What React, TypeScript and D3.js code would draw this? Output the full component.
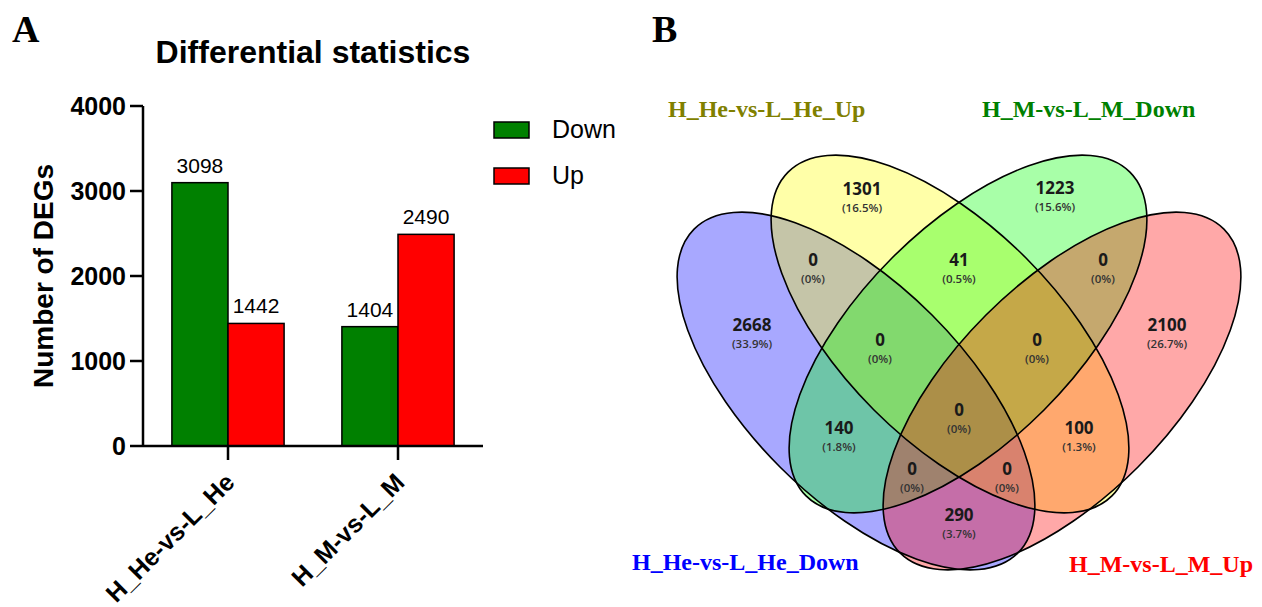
import React from "react";
import * as d3 from "d3";

// ---------- Panel A data ----------
const categories = ["H_He-vs-L_He", "H_M-vs-L_M"];
const seriesNames = ["Down", "Up"];
const downValues = [3098, 1404];
const upValues = [1442, 2490];
const seriesColors = ["#008000", "#ff0000"];
const yTicks = [0, 1000, 2000, 3000, 4000];

// ---------- Panel B data ----------
const vennSetNames = ["H_He-vs-L_He_Down", "H_He-vs-L_He_Up", "H_M-vs-L_M_Down", "H_M-vs-L_M_Up"];
const vennFills = ["#0000ff", "#ffff00", "#00ff00", "#ff0000"];
const vennLabelColors = ["#0000ff", "#808000", "#008000", "#ff0000"];
const vennRegionKeys = ["B", "Y", "G", "R", "BY", "YG", "GR", "BYG", "YGR", "BG", "BYGR", "YR", "BGR", "BYR", "BR"];
const vennCounts = [2668, 1301, 1223, 2100, 0, 41, 0, 0, 0, 140, 0, 100, 0, 0, 290];

// ---------- Venn layout (venn units: x relative to symmetry axis, y from top) ----------
const ellipseLayout = [
  { cx: -103, cy: 391, rot: 45 },
  { cx: -9, cy: 334, rot: 45 },
  { cx: 9, cy: 334, rot: -45 },
  { cx: 103, cy: 391, rot: -45 },
];
const ellipseA = 229;
const ellipseB = 107.5;
const regionLabelLayout: Record<string, [number, number]> = {
  B: [-207, 327], Y: [-97, 191], G: [96, 190], R: [208, 327],
  BY: [-146, 262], YG: [0, 262], GR: [144, 262],
  BYG: [-79, 342], YGR: [78, 342],
  BG: [-120, 430], BYGR: [0, 412], YR: [120, 430],
  BGR: [-47, 471], BYR: [48, 471], BR: [0, 517],
};
const setLabelLayout: [number, number, string][] = [
  [-327, 570, "start"],
  [-291, 117, "start"],
  [23, 117, "start"],
  [294, 572, "end"],
];

const SANS = "'Liberation Sans', Arial, Helvetica, sans-serif";
const SERIF = "'Liberation Serif', 'Times New Roman', serif";
const VENN_FONT = "'Open Sans', 'Noto Sans', sans-serif";

export default function App() {
  const W = 1262, H = 607;

  // Panel A scales
  const x = d3.scaleBand<string>().domain(categories).range([143, 483]).paddingInner(0.34).paddingOuter(0.17);
  const xs = d3.scaleBand<string>().domain(seriesNames).range([0, x.bandwidth()]);
  const y = d3.scaleLinear().domain([0, 4000]).range([446, 106]);
  const seriesValues = [downValues, upValues];

  // Panel B scales
  const vx = d3.scaleLinear().domain([-300, 300]).range([659, 1259]);
  const vy = d3.scaleLinear().domain([0, 600]).range([0, 600]);
  const k = vx(1) - vx(0);

  const total = d3.sum(vennCounts);
  const pct = (v: number) => (v === 0 ? "(0%)" : `(${((v / total) * 100).toFixed(1)}%)`);

  return (
    <svg width={W} height={H} style={{ position: "absolute", left: 0, top: 0, background: "#fff" }}>
      {/* Panel letters */}
      <text x={12} y={42} fontFamily={SERIF} fontWeight="bold" fontSize={38}>A</text>
      <text x={652} y={42} fontFamily={SERIF} fontWeight="bold" fontSize={38}>B</text>

      {/* Title */}
      <text x={313} y={63} textAnchor="middle" fontFamily={SANS} fontWeight="bold" fontSize={32}>
        Differential statistics
      </text>

      {/* Bars */}
      {categories.map((c, ci) =>
        seriesNames.map((s, si) => {
          const v = seriesValues[si][ci];
          const bx = (x(c) as number) + (xs(s) as number);
          return (
            <g key={c + s}>
              <rect x={bx} y={y(v)} width={xs.bandwidth()} height={y(0) - y(v)} fill={seriesColors[si]} stroke="#000" strokeWidth={1.5} />
              <text x={bx + xs.bandwidth() / 2} y={y(v) - 10} textAnchor="middle" fontFamily={SANS} fontSize={21}>{v}</text>
            </g>
          );
        })
      )}

      {/* Y axis */}
      <line x1={143} x2={143} y1={y(4000)} y2={y(0)} stroke="#000" strokeWidth={2.5} />
      {yTicks.map((t) => (
        <g key={t}>
          <line x1={130} x2={143} y1={y(t)} y2={y(t)} stroke="#000" strokeWidth={2.5} />
          <text x={126} y={y(t)} dy="0.35em" textAnchor="end" fontFamily={SANS} fontWeight="bold" fontSize={25}>{t}</text>
        </g>
      ))}
      <text transform={`translate(53,276) rotate(-90)`} textAnchor="middle" fontFamily={SANS} fontWeight="bold" fontSize={28}>
        Number of DEGs
      </text>

      {/* X axis */}
      <line x1={143} x2={483} y1={y(0)} y2={y(0)} stroke="#000" strokeWidth={2.5} />
      {categories.map((c) => {
        const cx = (x(c) as number) + x.bandwidth() / 2;
        return (
          <g key={c}>
            <line x1={cx} x2={cx} y1={y(0)} y2={y(0) + 14} stroke="#000" strokeWidth={2.5} />
            <text transform={`translate(${cx + 8},${484}) rotate(-45)`} textAnchor="end" fontFamily={SANS} fontWeight="bold" fontSize={25}>
              {c}
            </text>
          </g>
        );
      })}

      {/* Legend */}
      {seriesNames.map((s, i) => (
        <g key={s}>
          <rect x={494} y={122 + i * 46} width={35} height={16} fill={seriesColors[i]} stroke="#000" strokeWidth={1.5} />
          <text x={552} y={138 + i * 46} fontFamily={SANS} fontSize={25}>{s}</text>
        </g>
      ))}

      {/* Venn fills */}
      {ellipseLayout.map((e, i) => (
        <ellipse key={"f" + i} cx={vx(e.cx)} cy={vy(e.cy)} rx={ellipseA * k} ry={ellipseB * k}
          transform={`rotate(${e.rot} ${vx(e.cx)} ${vy(e.cy)})`} fill={vennFills[i]} fillOpacity={0.34} stroke="none" />
      ))}
      {ellipseLayout.map((e, i) => (
        <ellipse key={"o" + i} cx={vx(e.cx)} cy={vy(e.cy)} rx={ellipseA * k} ry={ellipseB * k}
          transform={`rotate(${e.rot} ${vx(e.cx)} ${vy(e.cy)})`} fill="none" stroke="#000" strokeWidth={1.6} />
      ))}

      {/* Venn region labels */}
      {vennRegionKeys.map((key, i) => {
        const [lx, ly] = regionLabelLayout[key];
        return (
          <g key={key} fontFamily={VENN_FONT} textAnchor="middle">
            <text x={vx(lx)} y={vy(ly) + 4} fontWeight="bold" fontSize={17} fill="#1a1a1a">{vennCounts[i]}</text>
            <text x={vx(lx)} y={vy(ly) + 21} fontWeight="600" fontSize={11.5} fill="#333">{pct(vennCounts[i])}</text>
          </g>
        );
      })}

      {/* Venn set labels */}
      {vennSetNames.map((n, i) => {
        const [lx, ly, anchor] = setLabelLayout[i];
        return (
          <text key={n} x={vx(lx)} y={vy(ly)} textAnchor={anchor as any} fontFamily={SERIF} fontWeight="bold" fontSize={24} fill={vennLabelColors[i]}>
            {n}
          </text>
        );
      })}
    </svg>
  );
}
